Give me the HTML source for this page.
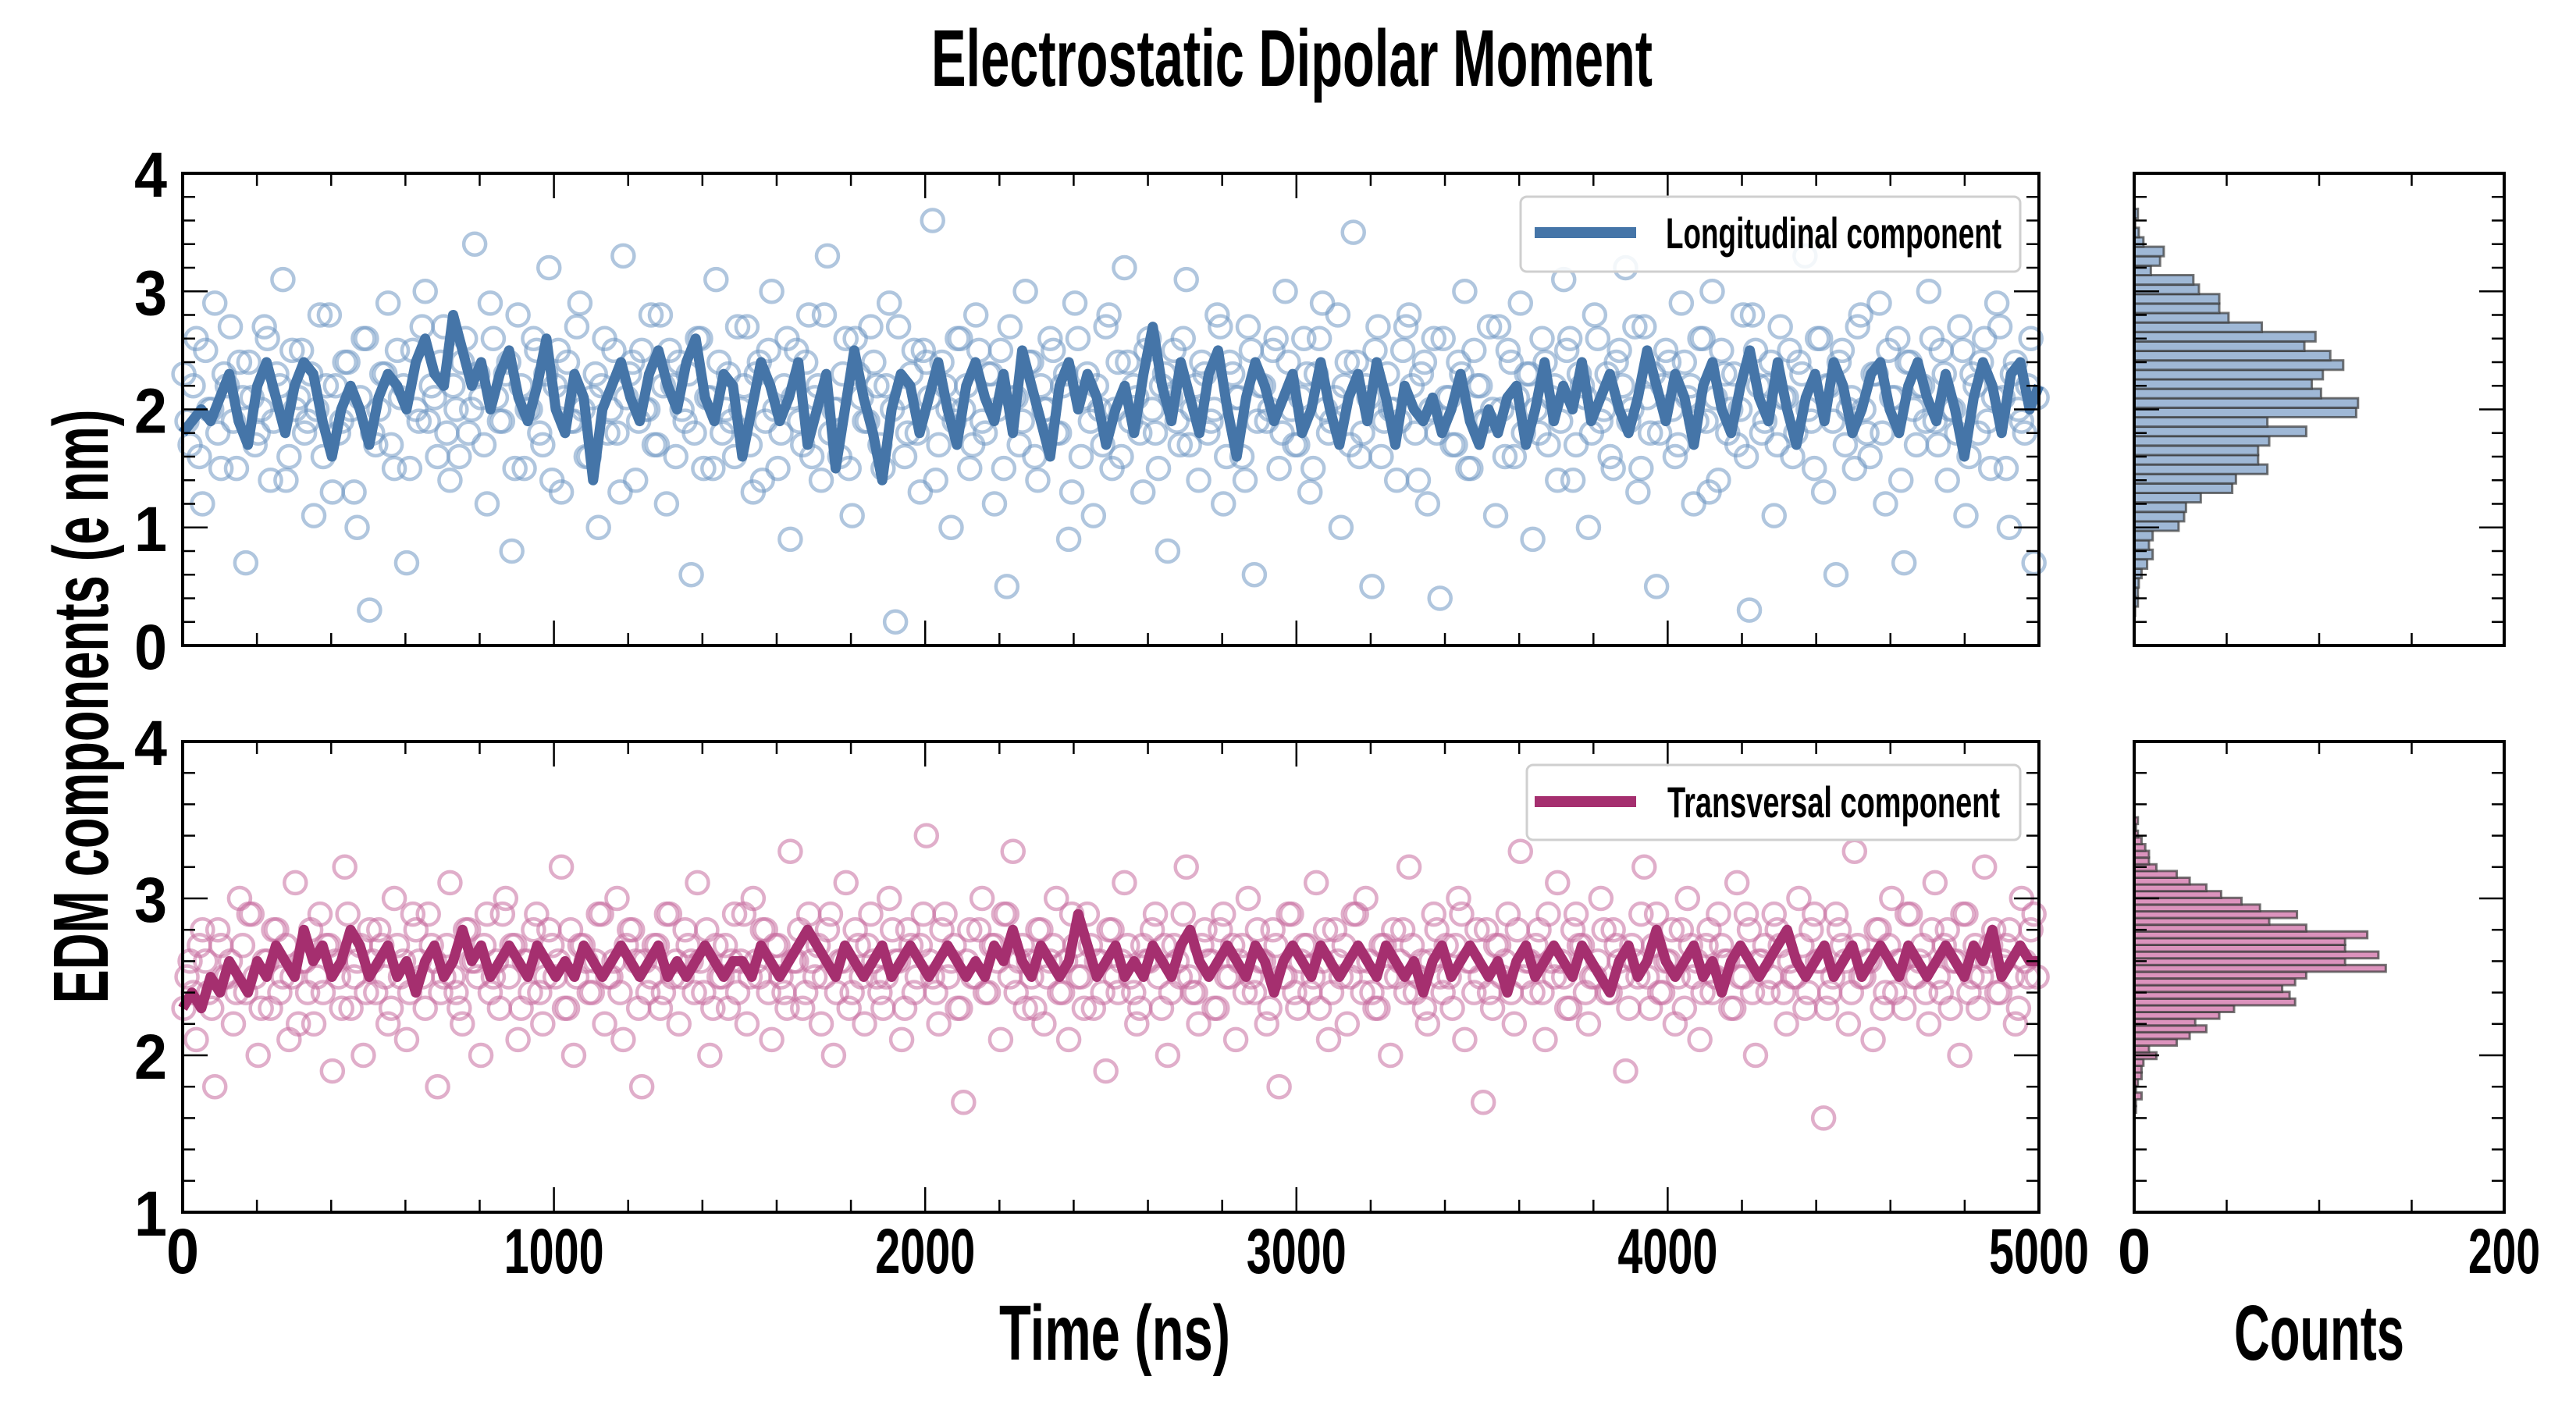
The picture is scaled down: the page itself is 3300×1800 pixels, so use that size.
<!DOCTYPE html>
<html><head><meta charset="utf-8"><style>
html,body{margin:0;padding:0;background:#fff;}
svg{display:block;}
text{font-family:"Liberation Sans Narrow","Liberation Sans",sans-serif;font-weight:bold;fill:#000;}
</style></head><body>
<svg id="chart" width="3300" height="1800" viewBox="0 0 3300 1800" xmlns="http://www.w3.org/2000/svg">
<rect width="3300" height="1800" fill="#fff"/>
<text x="1655" y="110" font-size="103" text-anchor="middle" textLength="924" lengthAdjust="spacingAndGlyphs">Electrostatic Dipolar Moment</text>
<g id="gTop"></g>
<g id="gBot"></g>
<g id="gHTop"></g>
<g id="gHBot"></g>
<g id="gAxes"></g>
<text x="1428" y="1742" font-size="100" text-anchor="middle" textLength="296" lengthAdjust="spacingAndGlyphs">Time (ns)</text>
<text x="2971" y="1742" font-size="100" text-anchor="middle" textLength="218" lengthAdjust="spacingAndGlyphs">Counts</text>
<text transform="translate(138,905) rotate(-90)" x="0" y="0" font-size="100" text-anchor="middle" textLength="761" lengthAdjust="spacingAndGlyphs">EDM components (e nm)</text>
<g id="gLegends">
<g>
<rect x="1948" y="252" width="640" height="96" rx="8" fill="#fff" fill-opacity="0.85" stroke="#cfcfcf" stroke-width="3"/>
<line x1="1966" y1="298" x2="2096" y2="298" stroke="#4575a8" stroke-width="14"/>
<text x="2134" y="318" font-size="56" textLength="430" lengthAdjust="spacingAndGlyphs">Longitudinal component</text>
</g>
<g>
<rect x="1956" y="980" width="632" height="96" rx="8" fill="#fff" fill-opacity="0.85" stroke="#cfcfcf" stroke-width="3"/>
<line x1="1966" y1="1027" x2="2096" y2="1027" stroke="#a52f6f" stroke-width="14"/>
<text x="2136" y="1047" font-size="56" textLength="426" lengthAdjust="spacingAndGlyphs">Transversal component</text>
</g>
</g>
</svg>
<script>
// ---- data ----
const timeMax = 5000;
const topScatter = [2.3,1.7,2.6,1.2,2.0,2.9,1.5,2.2,1.9,2.4,0.7,2.1,1.8,2.7,1.4,2.3,3.1,1.6,2.0,2.5,
1.9,1.1,2.8,2.2,1.3,1.8,2.4,2.0,1.0,2.6,0.3,1.7,2.3,2.9,1.5,2.1,0.7,2.5,1.9,3.0,
2.2,1.6,2.7,1.4,2.0,2.4,1.8,3.4,2.1,1.2,2.6,1.9,2.3,0.8,2.8,1.5,2.0,2.5,1.7,3.2,
2.2,1.3,2.4,1.9,2.9,1.6,2.1,1.0,2.6,2.0,1.8,3.3,2.3,1.4,2.5,2.0,1.7,2.8,1.2,2.2,
2.4,1.9,0.6,2.6,1.5,2.1,3.1,1.8,2.3,1.6,2.0,2.7,1.3,2.4,1.9,3.0,1.5,2.2,0.9,2.5,
1.7,2.8,2.1,1.4,3.3,2.0,1.6,2.6,1.1,2.3,1.9,2.7,2.2,1.5,2.9,0.2,2.1,1.8,2.5,1.3,
2.4,3.6,1.7,2.2,1.0,2.6,2.0,1.5,2.8,1.9,2.3,1.2,2.5,0.5,2.1,1.7,3.0,2.4,1.4,2.0,
2.6,1.8,2.2,0.9,2.9,1.6,2.3,1.1,2.0,2.7,1.5,2.4,3.2,1.9,2.1,1.3,2.6,1.8,2.2,0.8,
2.5,1.7,3.1,2.0,1.4,2.3,1.9,2.8,1.2,2.4,2.1,1.6,2.7,0.6,2.2,1.9,2.5,1.5,3.0,2.0,
1.7,2.6,1.3,2.3,2.9,1.8,2.1,1.0,2.4,3.5,1.6,2.2,0.5,2.7,1.9,2.0,1.4,2.5,2.8,1.8,
2.3,1.2,2.6,0.4,2.1,1.7,2.4,3.0,1.5,2.2,1.9,2.7,1.1,2.0,2.5,1.6,2.9,2.3,0.9,1.8,
2.4,2.1,1.4,3.1,2.6,1.7,2.2,1.0,2.8,1.9,2.3,1.5,2.5,3.2,2.0,1.3,2.7,1.8,0.5,2.2,
2.4,1.6,2.9,2.1,1.2,2.6,1.9,3.0,1.4,2.3,2.0,1.7,2.8,0.3,2.5,1.8,2.2,1.1,2.7,2.1,
1.6,2.4,3.3,1.9,2.6,1.3,2.2,0.6,2.5,2.0,1.5,2.8,1.8,2.3,2.9,1.2,2.1,2.6,0.7,2.4,
1.7,2.2,3.0,1.9,2.5,1.4,2.0,2.7,1.1,2.3,1.8,2.6,1.5,2.9,2.1,1.0,2.4,1.9,2.2,0.7];
const topScatterB = [1.9,2.2,1.6,2.5,2.0,1.8,2.3,2.7,1.5,2.1,2.4,1.7,2.0,2.6,1.9,2.2,1.4,2.5,2.1,1.8,
2.3,2.0,1.6,2.8,2.2,1.9,2.4,1.3,2.1,2.6,1.8,2.0,2.3,1.7,2.5,2.2,1.5,2.0,2.7,1.9,
2.1,2.4,1.8,2.2,1.6,2.6,2.0,2.3,1.7,2.9,2.1,1.9,2.4,1.5,2.2,2.0,2.6,1.8,2.3,1.4,
2.5,2.1,1.9,2.7,2.0,1.6,2.3,2.2,1.8,2.5,1.3,2.1,2.4,1.9,2.0,2.8,1.7,2.2,2.5,1.6,
2.0,2.3,1.8,2.6,2.1,1.5,2.4,2.0,1.9,2.7,2.2,1.7,2.3,1.4,2.5,2.0,1.8,2.6,2.1,1.9,
2.4,1.6,2.2,2.8,1.8,2.0,2.3,1.5,2.6,2.1,1.9,2.4,1.7,2.2,2.0,2.7,1.6,2.3,1.8,2.5,
2.1,1.4,2.4,2.0,1.9,2.6,2.2,1.7,2.5,1.8,2.3,2.0,1.5,2.7,2.1,1.9,2.4,1.6,2.2,2.0,
2.5,1.8,2.3,1.3,2.6,2.1,1.9,2.2,1.7,2.8,2.0,1.6,2.4,2.2,1.8,2.5,2.0,1.5,2.3,2.1,
1.9,2.6,1.7,2.2,2.4,1.8,2.0,2.7,1.6,2.3,2.1,1.4,2.5,1.9,2.2,2.0,2.6,1.8,2.4,1.7,
2.1,2.3,1.5,2.6,2.0,1.9,2.8,2.2,1.7,2.4,1.8,2.1,2.5,1.6,2.3,2.0,1.9,2.7,2.2,1.4,
2.4,2.0,1.8,2.6,2.1,1.7,2.3,1.5,2.5,2.2,1.9,2.0,2.7,1.6,2.4,2.1,1.8,2.3,2.0,2.6,
1.7,2.2,1.9,2.5,1.4,2.3,2.1,1.8,2.6,2.0,1.6,2.4,2.2,1.9,2.7,1.5,2.1,2.3,1.8,2.5,
2.0,1.7,2.4,2.2,1.9,2.6,1.3,2.1,2.5,1.8,2.3,2.0,1.6,2.8,2.2,1.9,2.4,1.7,2.1,2.5,
1.8,2.3,2.0,1.5,2.6,2.2,1.9,2.4,1.7,2.1,2.7,2.0,1.6,2.3,1.8,2.5,2.1,1.4,2.4,2.0,
2.2,1.9,2.6,1.7,2.3,2.0,1.8,2.5,1.6,2.2,2.4,1.9,2.1,2.7,1.5,2.3,2.0,1.8,2.6,2.1];
const topLine = [1.8,1.9,2.0,1.9,2.1,2.3,1.9,1.7,2.2,2.4,2.1,1.8,2.2,2.4,2.3,1.9,1.6,2.0,2.2,2.0,
1.7,2.1,2.3,2.2,2.0,2.4,2.6,2.3,2.2,2.8,2.5,2.2,2.4,2.0,2.3,2.5,2.1,1.9,2.2,2.6,
2.0,1.8,2.3,2.1,1.4,2.0,2.2,2.4,2.1,1.9,2.3,2.5,2.2,2.0,2.4,2.6,2.1,1.9,2.3,2.2,
1.6,2.0,2.4,2.2,1.9,2.1,2.4,1.7,2.0,2.3,1.5,2.0,2.5,2.1,1.8,1.4,2.0,2.3,2.2,1.8,
2.1,2.4,2.0,1.7,2.2,2.4,2.1,1.9,2.3,1.8,2.5,2.2,1.9,1.6,2.2,2.4,2.0,2.3,2.1,1.7,
2.0,2.2,1.8,2.3,2.7,2.2,1.9,2.4,2.1,1.8,2.3,2.5,2.0,1.6,2.1,2.4,2.2,1.9,2.1,2.3,
1.8,2.0,2.4,2.0,1.7,2.1,2.3,1.9,2.4,2.1,1.7,2.2,2.0,1.9,2.1,1.8,2.0,2.3,1.9,1.7,
2.0,1.8,2.1,2.2,1.7,2.0,2.4,1.9,2.2,2.0,2.4,1.9,2.1,2.3,2.0,1.8,2.1,2.5,2.2,1.9,
2.3,2.1,1.7,2.2,2.4,2.0,1.8,2.2,2.5,2.1,1.9,2.4,2.0,1.7,2.1,2.3,1.9,2.4,2.2,1.8,
2.0,2.3,2.4,2.0,1.8,2.2,2.4,2.1,1.9,2.3,2.0,1.6,2.1,2.4,2.2,1.8,2.3,2.4,2.0,2.2];
const botScatter = [2.3,2.6,2.1,2.8,2.4,1.8,2.7,2.5,2.2,3.0,2.4,2.9,2.0,2.6,2.3,2.8,2.5,2.1,3.1,2.6,
2.4,2.2,2.9,2.7,1.9,2.5,3.2,2.3,2.6,2.0,2.8,2.4,2.7,2.2,3.0,2.5,2.1,2.9,2.6,2.3,
2.7,1.8,2.5,3.1,2.4,2.2,2.8,2.6,2.0,2.9,2.5,2.3,3.0,2.7,2.1,2.6,2.4,2.9,2.2,2.8,
2.5,3.2,2.3,2.0,2.7,2.6,2.4,2.9,2.2,2.5,3.0,2.1,2.8,2.6,1.8,2.4,2.7,2.3,2.9,2.5,
2.2,2.8,2.6,3.1,2.4,2.0,2.7,2.5,2.3,2.9,2.6,2.2,3.0,2.5,2.8,2.1,2.7,2.4,3.3,2.6,
2.3,2.9,2.5,2.2,2.8,2.0,2.6,3.1,2.4,2.7,2.2,2.9,2.5,2.3,3.0,2.6,2.1,2.8,2.4,2.7,
3.4,2.5,2.2,2.9,2.6,2.3,1.7,2.8,2.5,3.0,2.4,2.7,2.1,2.9,3.3,2.6,2.3,2.5,2.8,2.2,
2.6,3.0,2.4,2.1,2.7,2.5,2.9,2.3,2.6,1.9,2.8,2.4,3.1,2.5,2.2,2.7,2.6,2.9,2.3,2.0,
2.7,2.5,3.2,2.4,2.2,2.8,2.6,2.3,2.9,2.5,2.1,2.7,3.0,2.4,2.6,2.2,2.8,1.8,2.5,2.9,
2.3,2.7,2.4,3.1,2.6,2.1,2.8,2.5,2.2,2.9,2.6,3.0,2.4,2.3,2.7,2.0,2.5,2.8,3.2,2.4,
2.6,2.2,2.9,2.5,2.7,2.3,3.0,2.1,2.6,2.8,1.7,2.4,2.7,2.5,2.9,2.2,3.3,2.6,2.4,2.8,
2.1,2.6,3.1,2.5,2.3,2.9,2.7,2.2,2.5,3.0,2.4,2.8,2.6,1.9,2.7,2.5,3.2,2.3,2.9,2.4,
2.6,2.2,2.8,3.0,2.5,2.1,2.7,2.4,2.9,2.6,2.3,3.1,2.5,2.8,2.0,2.6,2.4,2.9,2.7,2.2,
2.5,3.0,2.3,2.8,2.6,1.6,2.4,2.9,2.7,2.2,3.3,2.5,2.6,2.1,2.8,2.4,3.0,2.6,2.3,2.9,
2.5,2.7,2.2,3.1,2.4,2.8,2.6,2.0,2.9,2.5,2.3,3.2,2.7,2.4,2.6,2.8,2.2,3.0,2.5,2.9];
const botScatterB = [2.5,2.4,2.7,2.6,2.3,2.8,2.5,2.6,2.4,2.7,2.9,2.5,2.3,2.6,2.8,2.4,2.7,2.5,2.2,2.6,
2.8,2.5,2.4,2.7,2.6,2.3,2.9,2.5,2.7,2.4,2.6,2.8,2.5,2.3,2.7,2.6,2.4,2.8,2.5,2.9,
2.6,2.4,2.7,2.5,2.3,2.8,2.6,2.5,2.7,2.4,2.6,2.9,2.5,2.7,2.3,2.6,2.8,2.4,2.5,2.7,
2.6,2.3,2.8,2.5,2.7,2.4,2.6,2.9,2.5,2.6,2.4,2.7,2.8,2.3,2.6,2.5,2.7,2.4,2.9,2.6,
2.5,2.7,2.4,2.6,2.8,2.3,2.5,2.7,2.6,2.4,2.9,2.5,2.6,2.8,2.4,2.7,2.5,2.3,2.6,2.8,
2.4,2.6,2.7,2.5,2.9,2.4,2.6,2.3,2.8,2.5,2.7,2.6,2.4,2.5,2.8,2.6,2.3,2.7,2.5,2.9,
2.6,2.4,2.8,2.5,2.7,2.3,2.6,2.5,2.8,2.4,2.7,2.6,2.9,2.5,2.4,2.7,2.6,2.3,2.8,2.5,
2.7,2.4,2.6,2.9,2.5,2.3,2.7,2.6,2.4,2.8,2.5,2.6,2.7,2.4,2.3,2.6,2.8,2.5,2.7,2.4,
2.6,2.9,2.5,2.4,2.7,2.6,2.3,2.8,2.5,2.7,2.6,2.4,2.5,2.8,2.6,2.3,2.7,2.5,2.9,2.4,
2.6,2.7,2.5,2.3,2.8,2.4,2.6,2.7,2.5,2.9,2.4,2.6,2.3,2.7,2.5,2.8,2.6,2.4,2.7,2.5,
2.3,2.6,2.8,2.4,2.5,2.7,2.9,2.6,2.4,2.5,2.8,2.3,2.7,2.6,2.4,2.8,2.5,2.6,2.7,2.4,
2.9,2.5,2.6,2.3,2.8,2.7,2.4,2.5,2.6,2.8,2.4,2.7,2.5,2.3,2.6,2.9,2.5,2.7,2.4,2.6,
2.8,2.5,2.3,2.7,2.6,2.4,2.8,2.5,2.7,2.6,2.3,2.5,2.9,2.4,2.6,2.7,2.5,2.8,2.4,2.6,
2.5,2.7,2.4,2.9,2.6,2.3,2.5,2.8,2.6,2.4,2.7,2.5,2.6,2.8,2.3,2.7,2.4,2.6,2.9,2.5,
2.6,2.4,2.8,2.5,2.7,2.3,2.6,2.9,2.4,2.7,2.5,2.6,2.8,2.4,2.7,2.5,2.3,2.6,2.8,2.5];
const botLine = [2.3,2.4,2.3,2.5,2.4,2.6,2.5,2.4,2.6,2.5,2.7,2.6,2.5,2.8,2.6,2.7,2.5,2.6,2.8,2.7,
2.5,2.6,2.7,2.5,2.6,2.4,2.6,2.7,2.5,2.6,2.8,2.6,2.7,2.5,2.6,2.7,2.6,2.5,2.7,2.6,
2.5,2.6,2.5,2.7,2.6,2.5,2.6,2.7,2.6,2.5,2.6,2.7,2.5,2.6,2.5,2.6,2.7,2.6,2.5,2.6,
2.6,2.5,2.7,2.6,2.5,2.6,2.7,2.8,2.7,2.6,2.5,2.7,2.6,2.5,2.6,2.7,2.5,2.6,2.7,2.6,
2.5,2.6,2.7,2.6,2.5,2.6,2.5,2.7,2.6,2.8,2.6,2.5,2.7,2.6,2.5,2.6,2.9,2.7,2.5,2.6,
2.7,2.5,2.6,2.5,2.7,2.6,2.5,2.7,2.8,2.6,2.5,2.6,2.7,2.6,2.5,2.7,2.6,2.4,2.6,2.7,
2.6,2.5,2.7,2.6,2.5,2.6,2.7,2.6,2.5,2.7,2.6,2.5,2.6,2.4,2.6,2.7,2.5,2.6,2.7,2.6,
2.5,2.6,2.4,2.6,2.7,2.5,2.6,2.7,2.6,2.5,2.7,2.6,2.5,2.4,2.6,2.7,2.5,2.6,2.8,2.6,
2.5,2.6,2.7,2.5,2.6,2.4,2.6,2.7,2.6,2.5,2.6,2.7,2.8,2.6,2.5,2.6,2.7,2.5,2.6,2.7,
2.5,2.6,2.7,2.6,2.5,2.7,2.6,2.5,2.6,2.7,2.6,2.5,2.7,2.6,2.8,2.5,2.6,2.7,2.6,2.6];
const topHistStart = 0.25, topHistWidth = 0.0802;
const topHistCounts = [0.5,2,2,2.5,4,7,10,8,10,24,27,28,36,53,55,72,67,67,73,93,72,120,121,101,96,102,113,106,92,98,69,51,46,46,35,32,9,14,16,5,2.5,0.5,2];
const botHistStart = 1.634, botHistWidth = 0.0428;
const botHistCounts = [1,1,4,1,2,4,4,5,12,8,23,30,39,33,46,54,87,84,80,87,93,136,114,132,114,114,126,93,73,88,68,58,47,39,30,23,12,8,8,6,4,2,1,2];
const mainXTicks = [0,1000,2000,3000,4000,5000];
const topYTicks = [0,1,2,3,4];
const botYTicks = [1,2,3,4];
const histXTicks = [0,200];

// ---- layout ----
const NS = "http://www.w3.org/2000/svg";
const L = 234, R = 2612, HL = 2734, HR = 3208;
const TT = 222, TB = 827, BT = 950, BB = 1553;
const xS = t => L + t / timeMax * (R - L);
const yTop = v => TB - v / 4 * (TB - TT);
const yBot = v => BB - (v - 1) / 3 * (BB - BT);
const hx = c => HL + c / 200 * (HR - HL);

function mk(tag, attrs, parent) {
  const e = document.createElementNS(NS, tag);
  for (const k in attrs) e.setAttribute(k, attrs[k]);
  parent.appendChild(e);
  return e;
}

function drawScatter(g, scatter, offset, yf, light, nm) {
  scatter.forEach((v, i) => {
    const c = mk('circle', {cx: xS((i + offset) * timeMax / scatter.length), cy: yf(v), r: 14, fill: 'none', stroke: light, 'stroke-width': 4.5, 'stroke-opacity': 0.55}, g);
    
    
  });
}
function drawLine(g, line, yf, dark, nm) {
  const pts = line.map((v, i) => xS(i * timeMax / (line.length - 1)).toFixed(1) + ',' + yf(v).toFixed(1)).join(' ');
  const p = mk('polyline', {points: pts, fill: 'none', stroke: dark, 'stroke-width': 13, 'stroke-linejoin': 'round'}, g);
  
  
}
const gT = document.getElementById('gTop'), gB = document.getElementById('gBot');
drawScatter(gT, topScatter, 0.2, yTop, '#6f97c2', 'longitudinal');
drawScatter(gT, topScatterB, 0.7, yTop, '#6f97c2', 'longitudinal');
drawLine(gT, topLine, yTop, '#4575a8', 'longitudinal');
drawScatter(gB, botScatter, 0.2, yBot, '#c76c9f', 'transversal');
drawScatter(gB, botScatterB, 0.7, yBot, '#c76c9f', 'transversal');
drawLine(gB, botLine, yBot, '#a52f6f', 'transversal');

function drawHist(g, counts, start, w, yf, fill, nm) {
  counts.forEach((c, i) => {
    const y0 = yf(start + (i + 1) * w), y1 = yf(start + i * w);
    const r = mk('rect', {x: HL, y: y0, width: hx(c) - HL, height: y1 - y0, fill: fill, stroke: '#3a3a3a', 'stroke-opacity': 0.7, 'stroke-width': 3}, g);
    
    
  });
}
drawHist(document.getElementById('gHTop'), topHistCounts, topHistStart, topHistWidth, yTop, '#9fb8d6', 'longitudinal');
drawHist(document.getElementById('gHBot'), botHistCounts, botHistStart, botHistWidth, yBot, '#dc93bd', 'transversal');

const ax = document.getElementById('gAxes');
function tick(x1, y1, x2, y2, w) { mk('line', {x1, y1, x2, y2, stroke: '#000', 'stroke-width': w || 2.5}, ax); }
function label(x, y, s, anchor, tl) {
  const t = mk('text', {x, y, 'font-size': 82, 'text-anchor': anchor, textLength: tl, lengthAdjust: 'spacingAndGlyphs'}, ax);
  t.textContent = s;
  
  
}
function frame(x, y, w, h) { mk('rect', {x, y, width: w, height: h, fill: 'none', stroke: '#000', 'stroke-width': 4}, ax); }

function mainAxes(T, B, yf, lo, hi, yt, showX) {
  for (let t = 0; t <= timeMax; t += 200) {
    const len = t % 1000 === 0 ? 32 : 16;
    tick(xS(t), B, xS(t), B - len); tick(xS(t), T, xS(t), T + len);
  }
  for (let v = lo; v <= hi + 1e-6; v += 0.2) {
    const maj = Math.abs(v - Math.round(v)) < 1e-6;
    const len = maj ? 32 : 16;
    tick(L, yf(v), L + len, yf(v)); tick(R, yf(v), R - len, yf(v));
    tick(HL, yf(v), HL + len, yf(v)); tick(HR, yf(v), HR - len, yf(v));
  }
  yt.forEach(v => label(214, yf(v) + 30, String(v), 'end', 42));
  if (showX) mainXTicks.forEach(t => label(xS(t), 1631, String(t), 'middle', t === 0 ? 42 : 128));
  for (let c = 0; c <= 200; c += 50) { tick(hx(c), B, hx(c), B - 16); tick(hx(c), T, hx(c), T + 16); }
  frame(L, T, R - L, B - T);
  frame(HL, T, HR - HL, B - T);
}
mainAxes(TT, TB, yTop, 0, 4, topYTicks, false);
mainAxes(BT, BB, yBot, 1, 4, botYTicks, true);
histXTicks.forEach(c => label(hx(c), 1631, String(c), 'middle', c === 0 ? 42 : 92));
document.getElementById('chart').appendChild(document.getElementById('gLegends'));
</script>
</body></html>
